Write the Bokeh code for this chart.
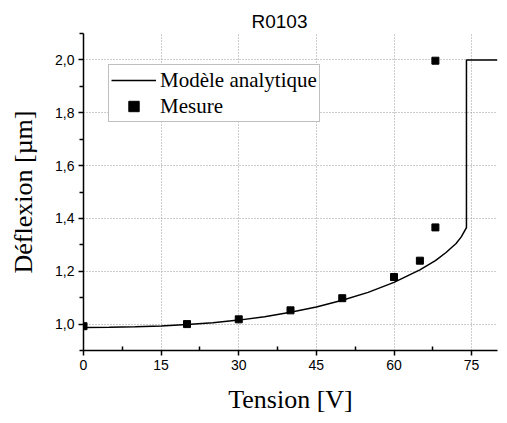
from bokeh.plotting import figure
from bokeh.models import FixedTicker, Range1d, Legend, LegendItem, Title
from bokeh.embed import file_html
from bokeh.resources import INLINE

# ---- data ----
title_text = "R0103"
x_label = "Tension [V]"
y_label = "Déflexion [µm]"

model_v = [0, 5, 10, 15, 20, 25, 30, 35, 40, 45, 50, 55, 60, 65, 68, 70, 72, 73, 74, 74, 80]
model_d = [0.987, 0.988, 0.990, 0.993, 0.998, 1.005, 1.015, 1.028, 1.045, 1.065,
           1.090, 1.120, 1.158, 1.205, 1.240, 1.270, 1.305, 1.330, 1.365, 2.0, 2.0]

meas_v = [0, 20, 30, 40, 50, 60, 65, 68, 68]
meas_d = [0.992, 1.0, 1.018, 1.052, 1.098, 1.178, 1.240, 1.366, 1.997]

x_ticks = [0, 15, 30, 45, 60, 75]
x_minor = [7.5, 22.5, 37.5, 52.5, 67.5]
y_ticks = [1.0, 1.2, 1.4, 1.6, 1.8, 2.0]
y_tick_labels = ["1,0", "1,2", "1,4", "1,6", "1,8", "2,0"]
y_minor = [0.9, 1.1, 1.3, 1.5, 1.7, 1.9, 2.1]

legend_labels = ["Modèle analytique", "Mesure"]

# ---- figure ----
p = figure(width=507, height=423, output_backend="svg", toolbar_location=None,
           x_range=Range1d(0, 80), y_range=Range1d(0.9, 2.1),
           min_border_left=83, min_border_right=10, min_border_top=33, min_border_bottom=73)
p.title = Title(text=title_text, align="left", text_font="Liberation Sans",
                text_font_size="19px", text_font_style="normal", text_color="black",
                standoff=4, offset=168)
p.outline_line_color = None
p.background_fill_color = "white"
p.border_fill_color = "white"

for ax in (p.xaxis[0], p.yaxis[0]):
    ax.axis_line_color = "black"
    ax.axis_line_width = 1.5
    ax.major_tick_line_color = "black"
    ax.major_tick_line_width = 1.5
    ax.minor_tick_line_color = "black"
    ax.minor_tick_line_width = 1.5
    ax.major_tick_in = 0
    ax.major_tick_out = 5
    ax.major_label_text_font = "Liberation Sans"
    ax.major_label_text_font_size = "14px"
    ax.major_label_text_color = "black"
    ax.axis_label_text_font = "Liberation Serif"
    ax.axis_label_text_font_size = "26px"
    ax.axis_label_text_font_style = "normal"
    ax.axis_label_text_color = "black"

p.xaxis[0].ticker = FixedTicker(ticks=x_ticks, minor_ticks=x_minor)
p.xaxis[0].minor_tick_in = 4
p.xaxis[0].minor_tick_out = 0
p.xaxis[0].axis_label = x_label
p.xaxis[0].axis_label_standoff = 12
p.xaxis[0].major_label_standoff = 4

p.yaxis[0].ticker = FixedTicker(ticks=y_ticks, minor_ticks=y_minor)
p.yaxis[0].major_label_overrides = dict(zip(y_ticks, y_tick_labels))
p.yaxis[0].minor_tick_in = 0
p.yaxis[0].minor_tick_out = 4
p.yaxis[0].axis_label = y_label
p.yaxis[0].axis_label_standoff = 14
p.yaxis[0].major_label_standoff = 4

p.xgrid[0].ticker = FixedTicker(ticks=x_ticks[1:])
p.ygrid[0].ticker = FixedTicker(ticks=y_ticks)
for g in (p.xgrid[0], p.ygrid[0]):
    g.grid_line_color = "#9a9a9a"
    g.grid_line_dash = "1 2"
    g.grid_line_width = 1

line_r = p.line(model_v, model_d, line_color="black", line_width=1.5)
pts_r = p.scatter(meas_v, meas_d, marker="square", size=7, fill_color="black", line_color="black")

legend = Legend(items=[LegendItem(label=legend_labels[0], renderers=[line_r]),
                       LegendItem(label=legend_labels[1], renderers=[pts_r])],
                location=(25, 228))
legend.label_text_font = "Liberation Serif"
legend.label_text_font_size = "21px"
legend.label_text_color = "black"
legend.glyph_width = 45
legend.glyph_height = 26
legend.label_height = 26
legend.label_standoff = 4
legend.spacing = 0
legend.padding = 2
legend.margin = 0
legend.border_line_color = "#808080"
legend.border_line_width = 1
legend.background_fill_color = "white"
legend.background_fill_alpha = 1
p.add_layout(legend, "center")

open("out.html", "w").write(file_html(p, INLINE))
